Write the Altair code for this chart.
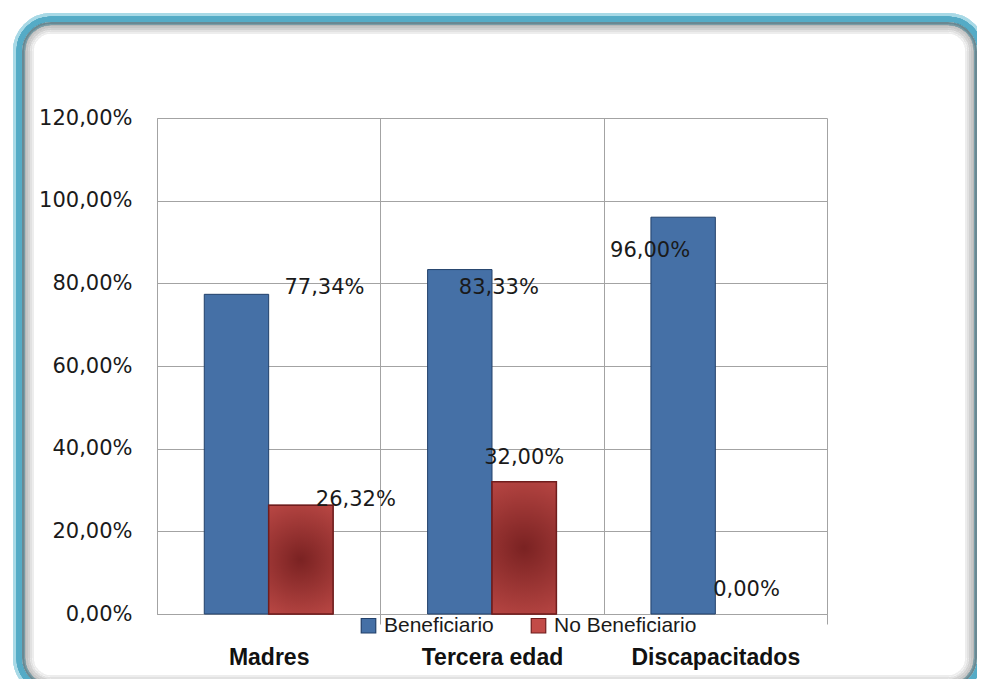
import altair as alt
import pandas as pd

# ---------------- data ----------------
categories = ["Madres", "Tercera edad", "Discapacitados"]
series = ["Beneficiario", "No Beneficiario"]
beneficiario = [0.7734, 0.8333, 0.96]
no_beneficiario = [0.2632, 0.32, 0.0]
y_ticks = [0.0, 0.2, 0.4, 0.6, 0.8, 1.0, 1.2]

# manual nudges (px) of the data labels, as dragged in the original chart
label_nudge = {
    ("Madres", "Beneficiario"): (88, -6),
    ("Madres", "No Beneficiario"): (55, -5),
    ("Tercera edad", "Beneficiario"): (39, 18),
    ("Tercera edad", "No Beneficiario"): (0, -24),
    ("Discapacitados", "Beneficiario"): (-33, 34),
    ("Discapacitados", "No Beneficiario"): (-1, -24),
}

rows = []
for c, b, n in zip(categories, beneficiario, no_beneficiario):
    rows.append({"cat": c, "serie": series[0], "valor": b})
    rows.append({"cat": c, "serie": series[1], "valor": n})
df = pd.DataFrame(rows)

# ---------------- style ----------------
W, H = 670, 496
GRID = "#a3a3a3"
BLUE = "#4570a6"
BLUE_EDGE = "#22406a"
RED = "#c24b48"
RED_EDGE = "#6f1d1d"
TXT = "#1a1a1a"

fmt = "replace(format(datum.value, '.2%'), '.', ',')"

x_enc = alt.X(
    "cat:N",
    sort=categories,
    scale=alt.Scale(paddingInner=0, paddingOuter=0),
    axis=alt.Axis(
        title=None,
        labelAngle=0,
        tickBand="extent",
        grid=True,
        gridColor=GRID,
        gridWidth=1,
        domainColor=GRID,
        tickColor=GRID,
        tickSize=10,
        tickOpacity={"condition": {"test": "datum.index == 0 || datum.index == 1", "value": 1}, "value": 0},
        labelFont="Liberation Sans",
        labelFontWeight="bold",
        labelFontSize=23,
        labelColor="#111111",
        labelPadding=22,
    ),
)
xoff_enc = alt.XOffset(
    "serie:N", sort=series, scale=alt.Scale(paddingInner=0, paddingOuter=0.734)
)
y_enc = alt.Y(
    "valor:Q",
    scale=alt.Scale(domain=[0, 1.2], nice=False, zero=True),
    axis=alt.Axis(
        title=None,
        values=y_ticks,
        labelExpr=fmt,
        grid=True,
        gridColor=GRID,
        gridWidth=1,
        domainColor=GRID,
        ticks=False,
        labelPadding=25,
        labelFont="DejaVu Sans",
        labelFontSize=21,
        labelColor=TXT,
    ),
)

base = alt.Chart(df)

# ---------------- decorative frame ----------------
FL, FT, FR, FB = -138, -99, 823, 572
glow = base.mark_rect(
    fill="transparent", stroke="#a9d8e6", strokeWidth=12, strokeOpacity=0.6, cornerRadius=32
).encode(x=alt.value(FL), x2=alt.value(FR), y=alt.value(FT), y2=alt.value(FB))
teal = base.mark_rect(
    fill="transparent", stroke="#55abc6", strokeWidth=5, cornerRadius=32
).encode(x=alt.value(FL), x2=alt.value(FR), y=alt.value(FT), y2=alt.value(FB))
shadows = []
for inset, op in [(4, 0.07), (6, 0.05), (8, 0.04), (10, 0.03), (12, 0.02), (14, 0.01)]:
    shadows.append(
        base.mark_rect(
            fill="transparent", stroke="#000000", strokeWidth=2, strokeOpacity=op,
            cornerRadius=max(32 - inset, 4),
        ).encode(
            x=alt.value(FL + inset), x2=alt.value(FR - inset),
            y=alt.value(FT + inset), y2=alt.value(FB - inset),
        )
    )

# ---------------- bars ----------------
bars = base.mark_bar(strokeWidth=1).encode(
    x=x_enc,
    xOffset=xoff_enc,
    y=y_enc,
    fill=alt.Fill(
        "serie:N",
        scale=alt.Scale(domain=series, range=[BLUE, RED]),
        legend=alt.Legend(
            title=None,
            orient="none",
            legendX=201,
            legendY=497,
            direction="horizontal",
            symbolType="square",
            symbolSize=210,
            symbolStrokeWidth=1.2,
            labelFont="Liberation Sans",
            labelFontSize=21,
            labelColor=TXT,
            labelOffset=5,
            columnPadding=34,
            padding=0,
        ),
    ),
    stroke=alt.Stroke(
        "serie:N", scale=alt.Scale(domain=series, range=[BLUE_EDGE, RED_EDGE]), legend=None
    ),
).transform_filter("datum.valor > 0")

red_grad = alt.RadialGradient(
    gradient="radial",
    x1=0.5, y1=0.5, r1=0,
    x2=0.5, y2=0.5, r2=0.75,
    stops=[
        alt.GradientStop(offset=0, color="#7a2222"),
        alt.GradientStop(offset=1, color="#cc524e"),
    ],
)
red_bars = base.mark_bar(fill=red_grad, stroke=RED_EDGE, strokeWidth=1.5).encode(
    x=x_enc, xOffset=xoff_enc, y=y_enc
).transform_filter(f"datum.serie == '{series[1]}' && datum.valor > 0")

# ---------------- value labels ----------------
labels = []
for (c, s), (dx, dy) in label_nudge.items():
    labels.append(
        base.mark_text(
            dx=dx, dy=dy, align="center", baseline="middle",
            font="DejaVu Sans", fontSize=21, color=TXT,
        ).encode(
            x=x_enc, xOffset=xoff_enc, y=y_enc, text="txt:N"
        ).transform_filter(
            f"datum.cat == '{c}' && datum.serie == '{s}'"
        ).transform_calculate(
            txt="replace(format(datum.valor, '.2%'), '.', ',')"
        )
    )

chart = alt.layer(glow, teal, *shadows, bars, red_bars, *labels).properties(
    width=W,
    height=H,
    autosize=alt.AutoSizeParams(type="none"),
    padding={"left": 149, "top": 110, "right": 150, "bottom": 65},
    background="white",
).configure_view(stroke=None)

chart.save("out.html", embed_options={"renderer": "svg", "actions": False})
